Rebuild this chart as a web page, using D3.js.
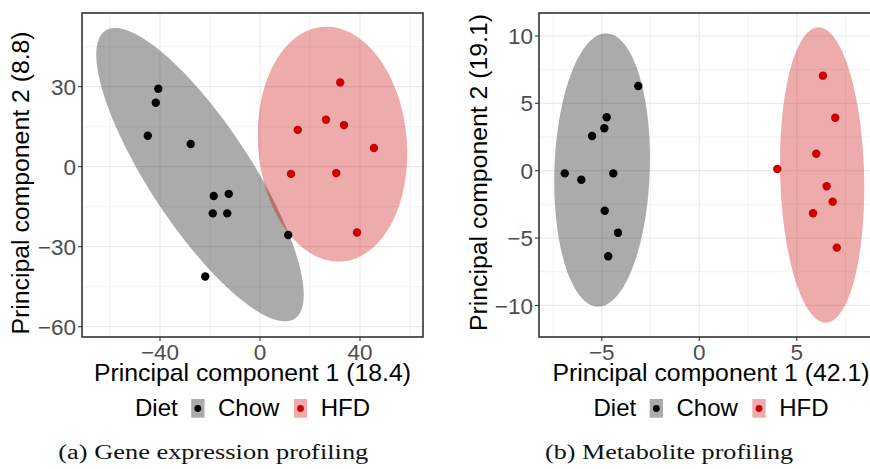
<!DOCTYPE html>
<html><head><meta charset="utf-8">
<script src="https://cdn.jsdelivr.net/npm/d3@7"></script>
<style>
body{margin:0;background:#fff;}
svg{display:block;font-family:"Liberation Sans",Arial,sans-serif;}
</style></head>
<body><svg id="c" width="870" height="469"></svg>
<script>
// ---------- Data ----------
const groups = ["Chow", "HFD"];
const groupColors = ["#000000", "#cc0000"];

// Panel (a) gene expression PCA scores
const geneChowX = [-40.7, -41.7, -44.9, -27.7, -18.5, -12.5, -18.9, -13.1, 11.3, -21.9];
const geneChowY = [29.2, 24.0, 11.6, 8.5, -11.0, -10.2, -17.5, -17.5, -25.6, -41.2];
const geneHfdX = [32.1, 26.4, 33.6, 15.1, 45.6, 12.4, 30.5, 38.8];
const geneHfdY = [31.6, 17.6, 15.6, 13.8, 7.0, -2.7, -2.4, -24.7];
// ellipse: centre x, centre y, half-extent x, half-extent y, correlation (Chow, HFD)
const geneEllCx = [-24, 29];
const geneEllCy = [-3, 8.45];
const geneEllSx = [41.5, 29.9];
const geneEllSy = [55, 44.05];
const geneEllR = [-0.818, -0.08];
const geneXTicks = [-40, 0, 40];
const geneXMinor = [-60, -20, 20, 60];
const geneYTicks = [-60, -30, 0, 30];
const geneYMinor = [-45, -15, 15, 45];
const geneXLabel = "Principal component 1 (18.4)";
const geneYLabel = "Principal component 2 (8.8)";
const geneCaption = "(a) Gene expression profiling";

// Panel (b) metabolite PCA scores
const metChowX = [-3.13, -4.75, -4.87, -5.50, -6.90, -6.05, -4.41, -4.85, -4.17, -4.67];
const metChowY = [6.28, 3.96, 3.15, 2.57, -0.2, -0.67, -0.2, -2.97, -4.6, -6.35];
const metHfdX = [6.34, 6.97, 6.0, 4.0, 6.53, 6.84, 5.83, 7.05];
const metHfdY = [7.05, 3.93, 1.26, 0.13, -1.16, -2.3, -3.16, -5.71];
const metEllCx = [-4.985, 6.3];
const metEllCy = [0.05, -0.32];
const metEllSx = [2.455, 2.16];
const metEllSy = [10.14, 10.96];
const metEllR = [0.084, -0.085];
const metXTicks = [-5, 0, 5];
const metXMinor = [-7.5, -2.5, 2.5, 7.5];
const metYTicks = [-10, -5, 0, 5, 10];
const metYMinor = [-7.5, -2.5, 2.5, 7.5];
const metXLabel = "Principal component 1 (42.1)";
const metYLabel = "Principal component 2 (19.1)";
const metCaption = "(b) Metabolite profiling";

// ---------- Drawing ----------
const svg = d3.select("#c");
const fmt = v => String(v).replace("-", "\u2212");

function panel(o) {
  const x = d3.scaleLinear().domain(o.xDomain).range([o.left, o.right]);
  const y = d3.scaleLinear().domain(o.yDomain).range([o.bottom, o.top]);
  const g = svg.append("g");
  const cid = "clip" + o.id;
  svg.append("clipPath").attr("id", cid).append("rect")
    .attr("x", o.left).attr("y", o.top).attr("width", o.right - o.left).attr("height", o.bottom - o.top);
  const pg = g.append("g").attr("clip-path", `url(#${cid})`);
  // grid
  pg.selectAll(".gxm").data(o.xMinor).join("line")
    .attr("x1", d => x(d)).attr("x2", d => x(d)).attr("y1", o.top).attr("y2", o.bottom)
    .attr("stroke", "#ebebeb").attr("stroke-width", 0.6);
  pg.selectAll(".gym").data(o.yMinor).join("line")
    .attr("y1", d => y(d)).attr("y2", d => y(d)).attr("x1", o.left).attr("x2", o.right)
    .attr("stroke", "#ebebeb").attr("stroke-width", 0.6);
  pg.selectAll(".gx").data(o.xTicks).join("line")
    .attr("x1", d => x(d)).attr("x2", d => x(d)).attr("y1", o.top).attr("y2", o.bottom)
    .attr("stroke", "#ebebeb").attr("stroke-width", 1.2);
  pg.selectAll(".gy").data(o.yTicks).join("line")
    .attr("y1", d => y(d)).attr("y2", d => y(d)).attr("x1", o.left).attr("x2", o.right)
    .attr("stroke", "#ebebeb").attr("stroke-width", 1.2);
  // ellipses
  const ts = d3.range(0, 361, 3).map(a => a * Math.PI / 180);
  groups.forEach((grp, i) => {
    const pts = ts.map(t => [
      x(o.ell.cx[i] + o.ell.sx[i] * Math.cos(t)),
      y(o.ell.cy[i] + o.ell.sy[i] * (o.ell.r[i] * Math.cos(t) + Math.sqrt(1 - o.ell.r[i] ** 2) * Math.sin(t)))
    ]);
    pg.append("path").attr("d", d3.line()(pts) + "Z")
      .attr("fill", groupColors[i]).attr("fill-opacity", 0.33).attr("stroke", "none");
  });
  // points
  groups.forEach((grp, i) => {
    const xs = o.pts[i][0], ys = o.pts[i][1];
    pg.selectAll(null).data(xs.map((v, k) => [v, ys[k]])).join("circle")
      .attr("cx", d => x(d[0])).attr("cy", d => y(d[1])).attr("r", 4.2)
      .attr("fill", groupColors[i]);
  });
  // border
  g.append("rect").attr("x", o.left).attr("y", o.top)
    .attr("width", o.right - o.left).attr("height", o.bottom - o.top)
    .attr("fill", "none").attr("stroke", "#333333").attr("stroke-width", 1.6);
  // ticks
  g.selectAll(".tx").data(o.xTicks).join("line")
    .attr("x1", d => x(d)).attr("x2", d => x(d)).attr("y1", o.bottom).attr("y2", o.bottom + 4)
    .attr("stroke", "#333").attr("stroke-width", 1.1);
  g.selectAll(".ty").data(o.yTicks).join("line")
    .attr("y1", d => y(d)).attr("y2", d => y(d)).attr("x1", o.left - 4).attr("x2", o.left)
    .attr("stroke", "#333").attr("stroke-width", 1.1);
  g.selectAll(".lx").data(o.xTicks).join("text")
    .attr("x", d => x(d)).attr("y", o.bottom + 23.2).attr("text-anchor", "middle")
    .attr("font-size", 22.5).attr("fill", "#4d4d4d").text(fmt);
  g.selectAll(".ly").data(o.yTicks).join("text")
    .attr("x", o.left - 6).attr("y", d => y(d) + 8.1).attr("text-anchor", "end")
    .attr("font-size", 22.5).attr("fill", "#4d4d4d").text(fmt);
  // axis titles
  const cxm = (o.left + o.right) / 2;
  g.append("text").attr("x", cxm).attr("y", 380.5).attr("text-anchor", "middle")
    .attr("font-size", 24.8).attr("fill", "#000").text(o.xLabel);
  g.append("text").attr("transform", `translate(${o.yTitleX},${o.yTitleY}) rotate(-90)`)
    .attr("text-anchor", "middle").attr("font-size", 24.8).attr("fill", "#000").text(o.yLabel);
  // legend
  const lg = g.append("g");
  let cur = 0;
  const t0 = lg.append("text").attr("x", cur).attr("y", 416).attr("font-size", 24).text("Diet");
  cur += t0.node().getComputedTextLength() + 13.5;
  groups.forEach((grp, i) => {
    lg.append("rect").attr("x", cur).attr("y", 399).attr("width", 13.3).attr("height", 18.7)
      .attr("fill", groupColors[i]).attr("fill-opacity", 0.33);
    lg.append("circle").attr("cx", cur + 6.65).attr("cy", 408.5).attr("r", 3.4).attr("fill", groupColors[i]);
    cur += 13.3 + 13.5;
    const t = lg.append("text").attr("x", cur).attr("y", 416).attr("font-size", 24).text(grp);
    cur += t.node().getComputedTextLength() + 14.5;
  });
  const total = cur - 14.5;
  lg.attr("transform", `translate(${cxm - total / 2},0)`);
  // caption
  svg.append("text").attr("x", o.capX).attr("y", 459).attr("text-anchor", "middle")
    .attr("font-family", "'Liberation Serif','Times New Roman',serif").attr("font-size", 20.5)
    .attr("textLength", o.capW).attr("lengthAdjust", "spacingAndGlyphs")
    .attr("fill", "#111").text(o.caption);
}

panel({
  id: "a", left: 82, right: 423, top: 13, bottom: 337,
  xDomain: [-71.2, 65.2], yDomain: [-63.86, 57.63],
  xTicks: geneXTicks, xMinor: geneXMinor, yTicks: geneYTicks, yMinor: geneYMinor,
  ell: {cx: geneEllCx, cy: geneEllCy, sx: geneEllSx, sy: geneEllSy, r: geneEllR},
  pts: [[geneChowX, geneChowY], [geneHfdX, geneHfdY]],
  xLabel: geneXLabel, yLabel: geneYLabel, yTitleX: 29, yTitleY: 183,
  caption: geneCaption, capX: 213.3, capW: 310
});
panel({
  id: "b", left: 539, right: 883, top: 13, bottom: 337,
  xDomain: [-8.221, 9.421], yDomain: [-12.34, 11.70],
  xTicks: metXTicks, xMinor: metXMinor, yTicks: metYTicks, yMinor: metYMinor,
  ell: {cx: metEllCx, cy: metEllCy, sx: metEllSx, sy: metEllSy, r: metEllR},
  pts: [[metChowX, metChowY], [metHfdX, metHfdY]],
  xLabel: metXLabel, yLabel: metYLabel, yTitleX: 487, yTitleY: 172.5,
  caption: metCaption, capX: 669, capW: 248
});
</script></body></html>
